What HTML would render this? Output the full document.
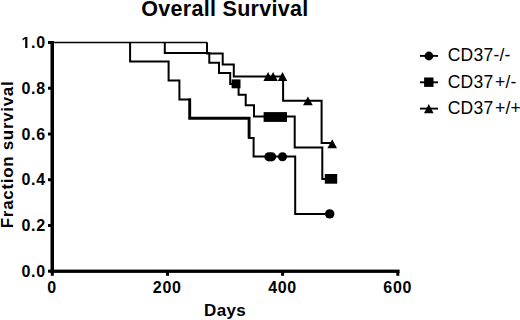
<!DOCTYPE html>
<html>
<head>
<meta charset="utf-8">
<style>
html,body{margin:0;padding:0;background:#fff;}
body{width:520px;height:320px;overflow:hidden;}
svg{display:block;}
text{font-family:"Liberation Sans",sans-serif;fill:#000;}
.b{font-weight:bold;}
</style>
</head>
<body>
<svg width="520" height="320" viewBox="0 0 520 320">
<rect width="520" height="320" fill="#fff"/>
<!-- title -->
<text class="b" x="141.3" y="15.8" font-size="21.5" letter-spacing="0.29">Overall Survival</text>
<!-- y label -->
<text class="b" font-size="17" letter-spacing="0.68" transform="translate(12.7,228.2) rotate(-90)">Fraction survival</text>
<!-- x label -->
<text class="b" x="204.1" y="315.5" font-size="17" letter-spacing="0.3">Days</text>

<!-- axes -->
<g fill="#000">
<rect x="50.5" y="41" width="3.5" height="232"/>
<rect x="50.5" y="269.6" width="349.1" height="3.3"/>
<!-- y ticks -->
<rect x="48" y="41" width="3" height="3"/>
<rect x="48" y="86.7" width="3" height="3"/>
<rect x="48" y="132.5" width="3" height="3"/>
<rect x="48" y="178.2" width="3" height="3"/>
<rect x="48" y="224" width="3" height="3"/>
<rect x="48" y="269.7" width="3" height="3"/>
<!-- x ticks -->
<rect x="50.8" y="272" width="3" height="3.8"/>
<rect x="166" y="272" width="3" height="3.8"/>
<rect x="281.1" y="272" width="3" height="3.8"/>
<rect x="396.3" y="272" width="3" height="3.8"/>
</g>
<g class="b" font-size="16" text-anchor="end" letter-spacing="0.7">
<text class="b" x="45.8" y="48">.0</text>
<path d="M478 0V1170L140 959V1180L493 1409H759V0Z" transform="translate(21.456,48) scale(0.0078125,-0.0078125)"/>
<text class="b" x="45.8" y="93.7">0.8</text>
<text class="b" x="45.8" y="139.5">0.6</text>
<text class="b" x="45.8" y="185.2">0.4</text>
<text class="b" x="45.8" y="231">0.2</text>
<text class="b" x="45.8" y="276.7">0.0</text>
</g>
<g font-size="16" text-anchor="middle" letter-spacing="0.7">
<text class="b" x="51.95" y="293.3">0</text>
<text class="b" x="167.25" y="293.3">200</text>
<text class="b" x="282.55" y="293.3">400</text>
<text class="b" x="397.75" y="293.3">600</text>
</g>

<!-- curves -->
<g fill="none" stroke="#000" stroke-width="2" stroke-linejoin="miter" stroke-linecap="square">
<!-- common 1.0 line -->
<path d="M54 42.6 H207" stroke-width="1.5" stroke-linecap="butt"/>
<!-- CD37-/- -->
<path d="M130.1 43.2 V61.4 H168.6 V80.6 H179.4 V99.4 H189.8"/>
<path d="M189.7 100 V118.2 H249.1 V137" stroke-width="2.9"/>
<path d="M249.1 138 H253.6 V156.5 H295.2 V214 H329.7"/>
<!-- CD37+/- -->
<path d="M164.8 43.2 V53.1 H209.3 V62.8 H219 V73.1 H230.2 V84 H238.6 V94.7 H245.7 V105.3 H254 V116.4 H294.7 V147.5 H322.3 V179 H331"/>
<!-- CD37+/+ -->
<path d="M207 43.2 V53.4 H222.7 V64.4 H233.8 V76.5 H283.1 V100.8 H321.6 V143.1 H332"/>
</g>
<!-- markers -->
<g fill="#000">
<circle cx="268.9" cy="156.8" r="4.6"/>
<circle cx="271.6" cy="156.8" r="4.6"/>
<circle cx="282.5" cy="156.8" r="4.5"/>
<circle cx="329.7" cy="213.9" r="4.7"/>
<rect x="231.6" y="79.4" width="8.9" height="8.9"/>
<rect x="263.6" y="112.1" width="23.4" height="9.8"/>
<rect x="324.8" y="174" width="12.4" height="9.7"/>
<path d="M268.1 71.9 L272.8 81 L263.4 81 Z"/>
<path d="M273.1 71.9 L277.8 81 L268.4 81 Z"/>
<path d="M282.5 71.9 L287.2 81 L277.8 81 Z"/>
<path d="M307.9 96.4 L312.8 105.2 L303 105.2 Z"/>
<path d="M332.2 139.2 L337 148.2 L327.4 148.2 Z"/>
</g>

<!-- legend -->
<g stroke="#000" stroke-width="1.9">
<line x1="420" y1="55.9" x2="438" y2="55.9"/>
<line x1="420" y1="82.3" x2="438" y2="82.3"/>
<line x1="420" y1="108.6" x2="438" y2="108.6"/>
</g>
<g fill="#000">
<circle cx="428.9" cy="56" r="4.4"/>
<rect x="424.1" y="77.5" width="9.4" height="9.4"/>
<path d="M428.8 104.1 L433.6 113.2 L424 113.2 Z"/>
</g>
<g font-size="17.5" letter-spacing="0.25">
<text x="447.7" y="60.8">CD37-/-</text>
<text x="447.7" y="87.6">CD37<tspan dx="1.5">+/-</tspan></text>
<text x="447.7" y="114">CD37<tspan dx="1.5">+/+</tspan></text>
</g>
</svg>
</body>
</html>
